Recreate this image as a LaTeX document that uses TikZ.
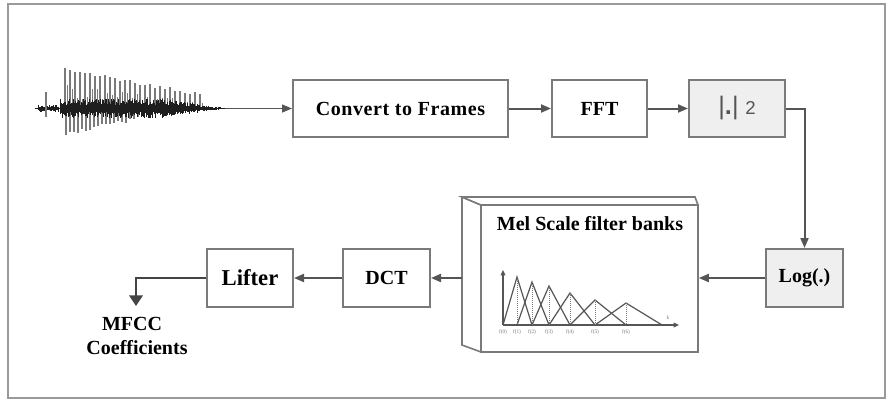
\documentclass[tikz,border=0pt]{standalone}
\usepackage{fontspec}
\setmainfont{Liberation Serif}
\newfontfamily\sansf{Liberation Sans}
\usetikzlibrary{arrows.meta}
\definecolor{boxline}{HTML}{7A7A7A}
\definecolor{arrowc}{HTML}{555555}
\definecolor{grayfill}{HTML}{EFEFEF}
\definecolor{framec}{HTML}{9A9A9A}
\definecolor{wavedark}{HTML}{1E1E1E}
\definecolor{wavelight}{HTML}{7A7A7A}
\definecolor{outc}{HTML}{444444}
\tikzset{
  blk/.style={draw=boxline, line width=1.5pt, fill=white, minimum height=42.75pt,
    inner sep=0pt, font=\fontsize{15}{17}\selectfont\bfseries},
  gblk/.style={blk, fill=grayfill},
  conn/.style={draw=arrowc, line width=1.5pt, -{Triangle[length=7.5pt,width=6pt]}},
  thinconn/.style={draw=arrowc, line width=1pt, -{Triangle[length=7.5pt,width=6pt]}},
  outconn/.style={draw=outc, line width=2.2pt, -{Triangle[length=8pt,width=10pt]}},
  lbl/.style={font=\fontsize{15}{17}\selectfont\bfseries, inner sep=0pt},
  fbk/.style={draw=arrowc, line width=0.9pt},
  fbdash/.style={draw=wavelight, line width=0.5pt, densely dotted},
  flab/.style={font=\fontsize{4}{4}\selectfont, text=wavelight, inner sep=0pt},
}
\begin{document}
\begin{tikzpicture}[x=0.75pt,y=-0.75pt]
\useasboundingbox (0,0) rectangle (892,403);
\draw[framec, line width=1.5pt] (8,4) rectangle (885,398);

% ---------- waveform ----------
\pgfmathsetseed{7}
\draw[wavedark, line width=0.8pt] (35,108.5) -- (225,108.5);
\foreach \x in {38,39,...,58}{
  \pgfmathsetmacro\ua{1+2.5*rnd}\pgfmathsetmacro\da{1+2.5*rnd}
  \draw[wavedark, line width=0.6pt] (\x,108.5-\ua) -- (\x,108.5+\da);
}
\draw[wavelight, line width=0.9pt] (46,92) -- (46,117);
\foreach \i in {0,...,27}{
  \pgfmathsetmacro\xx{65+5*\i}
  \pgfmathsetmacro\hh{37-0.9*\i+4*rnd}
  \draw[wavelight, line width=0.9pt] (\xx,108.5) -- (\xx,108.5-\hh);
  \pgfmathsetmacro\xb{67.5+5*\i}
  \pgfmathsetmacro\hb{(30-0.8*\i)*(0.3+0.5*rnd)}
  \draw[wavelight, line width=0.6pt] (\xb,108.5) -- (\xb,108.5-\hb);
}
\foreach \i in {0,...,18}{
  \pgfmathsetmacro\xx{66+4*\i}
  \pgfmathsetmacro\hh{24-0.9*\i+4*rnd}
  \draw[wavelight, line width=0.9pt] (\xx,108.5) -- (\xx,108.5+\hh);
}
\foreach \x in {60,61,...,222}{
  \pgfmathsetmacro\aa{ifthenelse(\x<160,10,1+9*(222-\x)/62)}
  \pgfmathsetmacro\ua{\aa*(0.35+0.65*rnd)}
  \pgfmathsetmacro\da{\aa*(0.35+0.65*rnd)}
  \draw[wavedark, line width=0.6pt] (\x,108.5-\ua) -- (\x,108.5+\da);
}
\coordinate (wend) at (225,108.5);

% ---------- top row ----------
\node[blk, minimum width=161.25pt, font=\fontsize{15}{17}\selectfont\bfseries\addfontfeature{LetterSpace=3}] (conv) at (400.5,108.5) {Convert to Frames};
\node[blk, minimum width=71.25pt] (fft) at (599.5,108.5) {FFT};
\node[gblk, minimum width=72pt, font=\sansf, text=arrowc] (abs) at (737,108.5)
  {{\fontsize{19}{19}\selectfont|{\bfseries.}|}\hspace{5pt}{\fontsize{14}{14}\selectfont 2}};

% ---------- bottom row ----------
\node[gblk, minimum width=57.75pt, minimum height=43.5pt] (log) at (804.5,278) {Log(.)};
\node[blk, minimum width=65.25pt, minimum height=43.5pt] (dct) at (386.5,278) {DCT};
\node[blk, minimum width=64.5pt, minimum height=43.5pt, font=\fontsize{17}{19}\selectfont\bfseries] (lifter) at (250,278) {Lifter};

% ---------- Mel filter bank box ----------
\filldraw[fill=white, draw=boxline, line width=1.2pt]
  (481,205) -- (462,197) -- (462,345) -- (481,352) -- cycle;
\filldraw[fill=white, draw=boxline, line width=1.2pt]
  (481,205) -- (462,197) -- (695,197) -- (698,205) -- cycle;
\node[draw=boxline, line width=1.2pt, fill=white, minimum width=162.75pt,
  minimum height=110.25pt, inner sep=0pt] (mel) at (589.5,278.5) {};
\coordinate (melleft) at (462,278);
\node[lbl] (meltitle) at (590,224) {Mel Scale filter banks};

% filter bank graph
\draw[fbk, -{Triangle[length=4pt,width=3.5pt]}] (503,325) -- (503,270);
\draw[fbk, -{Triangle[length=4pt,width=3.5pt]}] (503,325) -- (679,325);
\draw[fbk] (503,325) -- (517,277) -- (532,325);
\draw[fbk] (517,325) -- (532,282) -- (549,325);
\draw[fbk] (532,325) -- (549,286) -- (570,325);
\draw[fbk] (549,325) -- (570,293) -- (595,325);
\draw[fbk] (570,325) -- (595,300) -- (626,325);
\draw[fbk] (595,325) -- (626,303) -- (662,325);
\foreach \px/\py in {517/277,532/282,549/286,570/293,595/300,626/303}{
  \draw[fbdash] (\px,\py) -- (\px,325);
}
\foreach \px/\k in {503/0,517/1,532/2,549/3,570/4,595/5,626/6}{
  \node[flab] (fl\k) at (\px,332) {f(\k)};
}
\node[flab] (klab) at (668,318) {k};

% ---------- output label ----------
\node[lbl, anchor=base] (mfcc) at (132,330) {MFCC};
\node[lbl, anchor=base] (coef) at (137,354) {Coefficients};
\coordinate (outtip) at (136,306);

% ---------- connectors ----------
\draw[thinconn] (wend) -- (conv.west);
\draw[conn] (conv.east) -- (fft.west);
\draw[conn] (fft.east) -- (abs.west);
\draw[conn] (abs.east) -| (log.north);
\draw[conn] (log.west) -- (log.west -| mel.east);
\draw[conn] (melleft) -- (dct.east);
\draw[conn] (dct.west) -- (lifter.east);
\draw[outconn] (lifter.west) -| (outtip);
\end{tikzpicture}
\end{document}
